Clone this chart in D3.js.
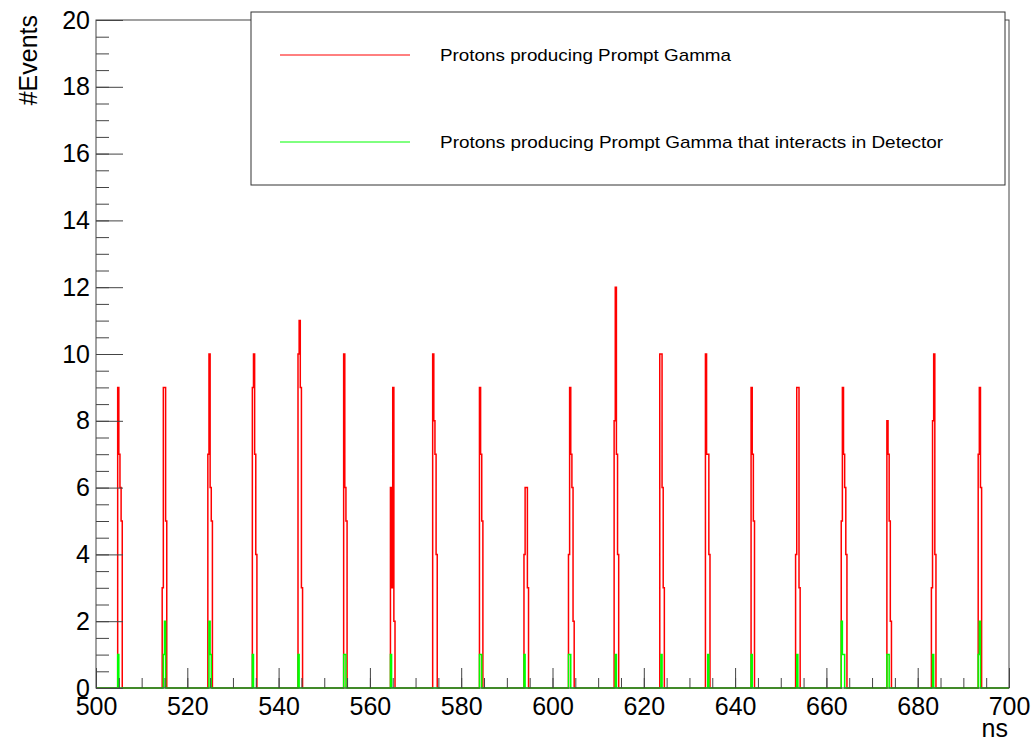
<!DOCTYPE html>
<html>
<head>
<meta charset="utf-8">
<script src="https://cdn.jsdelivr.net/npm/d3@7"></script>
<style>
  body { margin: 0; background: #fff; }
  text { font-family: "Liberation Sans", Arial, sans-serif; fill: #000; }
</style>
</head>
<body>
<div id="chart"></div>
<script>
// histogram binning (ns)
const xDomain = [500, 700];
const yDomain = [0, 20];
const binWidth = 0.25;

// left edge of each bunch of filled bins
const peakStarts = [504.75, 514.5, 524.5, 534.25, 544.25, 554.25, 564.5, 573.75, 584.0, 593.75,
                    603.5, 613.5, 623.5, 633.5, 643.5, 653.25, 663.25, 673.25, 683.0, 693.25];

// Protons producing Prompt Gamma (counts per bin, starting at peakStarts)
const protonCounts = [
  [9, 7, 6, 5], [3, 9, 9, 5], [7, 10, 6, 5], [9, 10, 7, 4], [10, 11, 9, 3],
  [10, 6, 5], [6, 3, 9, 2], [10, 8, 7, 4], [9, 7, 5], [4, 6, 6, 3],
  [4, 9, 7, 6, 2], [8, 12, 7, 4], [10, 10, 6, 3], [10, 7, 7, 4], [9, 7, 5],
  [4, 9, 9, 3], [5, 9, 7, 6, 4], [8, 7, 5, 2], [3, 8, 10, 4], [7, 9, 6]
];

// ... that interacts in Detector
const detectorCounts = [
  [1, 0, 0, 0], [0, 1, 2, 0], [0, 2, 1, 0], [1, 0, 0, 0], [1, 0, 0, 0],
  [1, 1, 0], [1, 0, 0, 0], [0, 0, 0, 0], [1, 1, 0], [1, 0, 0, 0],
  [1, 1, 0, 0, 0], [0, 1, 0, 0], [0, 1, 0, 0], [0, 0, 1, 0], [1, 0, 0],
  [0, 1, 0, 0], [2, 1, 1, 0, 0], [1, 1, 0, 0], [0, 1, 0, 0], [1, 2, 0]
];

const legendLabels = ["Protons producing Prompt Gamma",
                      "Protons producing Prompt Gamma that interacts in Detector"];
const seriesColors = ["#ff0000", "#00ff00"];

const W = 1033, H = 742;
const margin = {left: 96, right: 24, top: 20, bottom: 54};

const svg = d3.select("#chart").append("svg")
  .attr("width", W).attr("height", H);

const x = d3.scaleLinear().domain(xDomain).range([margin.left, W - margin.right]);
const y = d3.scaleLinear().domain(yDomain).range([H - margin.bottom, margin.top]);

// expand the peak lists into a full set of bins
const fillBins = (counts) => {
  const n = Math.round((xDomain[1] - xDomain[0]) / binWidth);
  const arr = new Array(n).fill(0);
  peakStarts.forEach((s, i) => {
    const i0 = Math.round((s - xDomain[0]) / binWidth);
    counts[i].forEach((c, j) => { arr[i0 + j] = c; });
  });
  const pts = arr.map((c, i) => [xDomain[0] + i * binWidth, c]);
  pts.push([xDomain[1], 0]);
  return pts;
};

const line = d3.line()
  .x(d => x(d[0]))
  .y(d => y(d[1]))
  .curve(d3.curveStepAfter);

[protonCounts, detectorCounts].forEach((counts, k) => {
  svg.append("path")
    .attr("d", line(fillBins(counts)))
    .attr("fill", "none")
    .attr("stroke", seriesColors[k])
    .attr("stroke-width", 1.5);
});

// frame
svg.append("rect")
  .attr("x", x(xDomain[0])).attr("y", y(yDomain[1]))
  .attr("width", x(xDomain[1]) - x(xDomain[0]))
  .attr("height", y(yDomain[0]) - y(yDomain[1]))
  .attr("fill", "none").attr("stroke", "#444");

// axes (ticks point inwards, like ROOT)
const gx = svg.append("g").attr("transform", `translate(0,${y(0)})`);
gx.append("g").call(d3.axisBottom(x).tickValues(d3.range(500, 701, 5)).tickSize(-10).tickFormat(""));
gx.append("g").call(d3.axisBottom(x).tickValues(d3.range(500, 701, 20)).tickSize(-20).tickPadding(9).tickFormat(d3.format("d")));

const gy = svg.append("g").attr("transform", `translate(${x(500)},0)`);
gy.append("g").call(d3.axisLeft(y).tickValues(d3.range(0, 20.01, 0.5)).tickSize(-13).tickFormat(""));
gy.append("g").call(d3.axisLeft(y).tickValues(d3.range(0, 21, 2)).tickSize(-27).tickPadding(6).tickFormat(d3.format("d")));

svg.selectAll(".domain").remove();
svg.selectAll(".tick line").attr("stroke", "#444");
svg.selectAll(".tick text").style("font-size", "25px").attr("fill", "#000");

// axis titles
svg.append("text")
  .attr("x", x(700) - 1).attr("y", 737)
  .attr("text-anchor", "end")
  .style("font-size", "25px")
  .text("ns");

svg.append("text")
  .attr("transform", "translate(37,15) rotate(-90)")
  .attr("text-anchor", "end")
  .style("font-size", "25px")
  .text("#Events");

// legend
const lg = svg.append("g");
lg.append("rect")
  .attr("x", 251).attr("y", 12).attr("width", 754).attr("height", 173)
  .attr("fill", "#fff").attr("stroke", "#333");

const legendY = [55, 142];
const legendWidths = [291, 503];
legendLabels.forEach((label, k) => {
  lg.append("line")
    .attr("x1", 280).attr("x2", 410)
    .attr("y1", legendY[k]).attr("y2", legendY[k])
    .attr("stroke", seriesColors[k]).attr("stroke-width", 1);
  lg.append("text")
    .attr("x", 440).attr("y", legendY[k] + 6)
    .style("font-size", "17px")
    .attr("textLength", legendWidths[k])
    .attr("lengthAdjust", "spacingAndGlyphs")
    .text(label);
});
</script>
</body>
</html>
